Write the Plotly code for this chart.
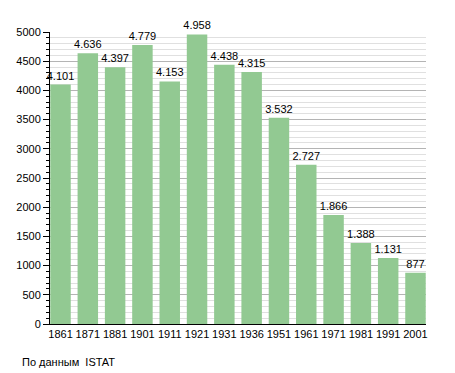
import plotly.graph_objects as go

years = ["1861", "1871", "1881", "1901", "1911", "1921", "1931", "1936", "1951", "1961", "1971", "1981", "1991", "2001"]
population = [4101, 4636, 4397, 4779, 4153, 4958, 4438, 4315, 3532, 2727, 1866, 1388, 1131, 877]
labels = [f"{v:,}".replace(",", ".") for v in population]

W, H = 455, 373
ML, MR, MT, MB = 50, 29, 32, 49
GAP = 0.25

fig = go.Figure(go.Bar(
    x=years, y=population, text=labels, textposition="outside",
    constraintext="none",
    marker=dict(color="rgb(146,201,146)", line=dict(width=0)),
    textfont=dict(family="Liberation Sans, Arial", size=11, color="black"),
    cliponaxis=False,
))

plot_w = W - ML - MR
plot_h = H - MT - MB
half = (1 - GAP) / 2

fig.update_layout(
    width=W, height=H,
    margin=dict(l=ML, r=MR, t=MT, b=MB, autoexpand=False),
    paper_bgcolor="white", plot_bgcolor="white",
    bargap=GAP,
    showlegend=False,
    font=dict(family="Liberation Sans, Arial", size=11, color="black"),
    xaxis=dict(type="category", range=[-half - 0.01, len(years) - 1 + half + 0.01],
               showline=True, linecolor="black", linewidth=1,
               ticks="", showgrid=False, tickfont=dict(size=11)),
    yaxis=dict(range=[0, 5000], dtick=500, showline=True, linecolor="black", linewidth=1,
               ticks="outside", ticklen=6, tickcolor="black",
               showgrid=True, gridcolor="#b4b4b4", gridwidth=1,
               zeroline=False, tickfont=dict(size=11),
               minor=dict(dtick=100, showgrid=True, gridcolor="#e0e0e0",
                          ticks="outside", ticklen=3, tickcolor="black")),
    annotations=[dict(text="По данным  ISTAT", xref="paper", yref="paper",
                      x=(20 - ML) / plot_w, y=(H - MB - 362) / plot_h,
                      xanchor="left", yanchor="middle", showarrow=False)],
)

fig.write_html("out.html", config={"displayModeBar": False},
               post_script="document.body.style.margin='0';document.body.style.overflow='hidden';")
